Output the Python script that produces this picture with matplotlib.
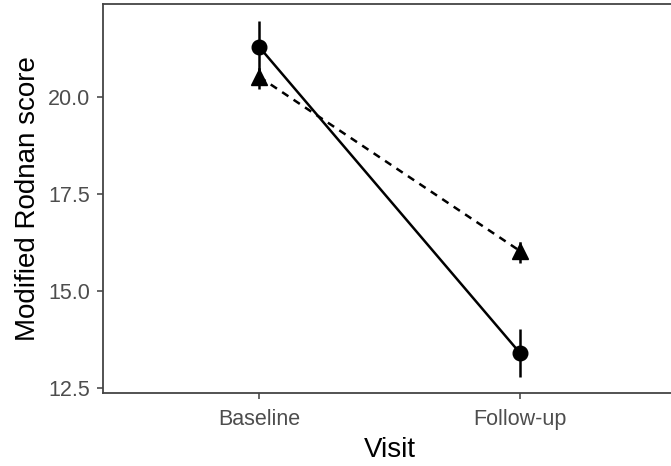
import numpy as np
import matplotlib
matplotlib.use("Agg")
import matplotlib.pyplot as plt

plt.rcParams['font.family'] = ['Liberation Sans', 'DejaVu Sans']

# --------------------- DATA
visits = ['Baseline', 'Follow-up']
circle_mean = [21.29, 13.40]
circle_err = [0.66, 0.62]
triangle_mean = [20.52, 16.03]
triangle_err = [0.32, 0.32]

x = np.arange(1, len(visits) + 1)

fig = plt.figure(figsize=(6.71, 4.66), dpi=100)
# panel runs off the right edge like the cropped original
ax = fig.add_axes([103 / 671, 1 - 393 / 466, (676 - 103) / 671, (393 - 4) / 466])

ax.errorbar(x, circle_mean, yerr=circle_err, color='black', lw=1.8,
            marker='o', ms=10.5, ls='-', capsize=0, zorder=3)
eb = ax.errorbar(x, triangle_mean, yerr=triangle_err, color='black', lw=1.8,
                 marker='^', ms=12, ls=(0, (3, 2.5)), capsize=0, zorder=3)
eb[2][0].set_linestyle((0, (3, 2.5)))

ax.set_xlim(0.4, 2.6)
ax.set_ylim(12.36, 22.40)
ax.set_xticks(x)
ax.set_xticklabels(visits)
ax.set_yticks([12.5, 15.0, 17.5, 20.0])
ax.set_yticklabels(['12.5', '15.0', '17.5', '20.0'])

ax.tick_params(colors='#4d4d4d', labelsize=15.5, length=4, width=1.2)
ax.tick_params(axis='x', pad=7.5)
ax.tick_params(axis='y', pad=5.5)
for side in ['left', 'bottom', 'top']:
    ax.spines[side].set_color('#444444')
    ax.spines[side].set_linewidth(1.3)
ax.spines['right'].set_visible(False)

ax.set_xlabel('Visit', fontsize=20, labelpad=5)
ax.set_ylabel('Modified Rodnan score', fontsize=20, labelpad=5)

fig.savefig('out.png', dpi=100)
